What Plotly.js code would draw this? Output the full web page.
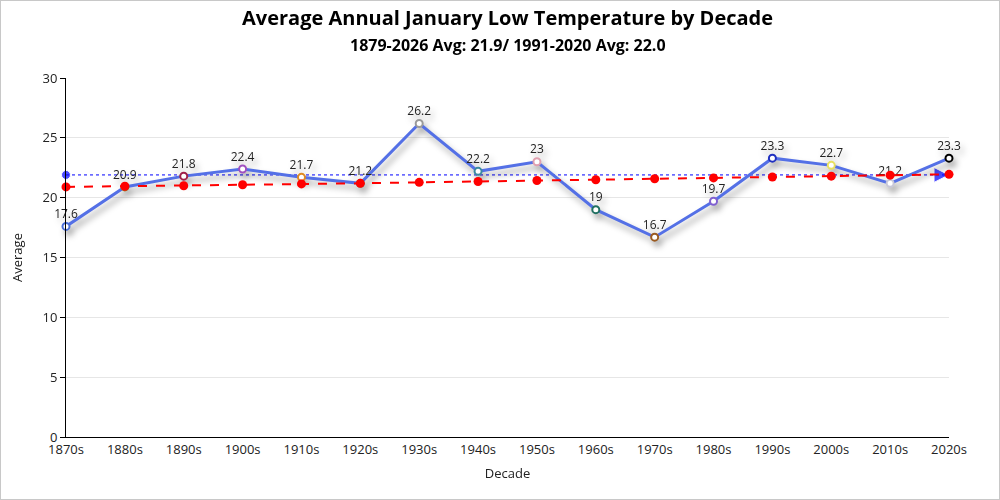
<!DOCTYPE html>
<html>
<head>
<meta charset="utf-8">
<script src="https://cdn.plot.ly/plotly-3.0.1.min.js"></script>
<style>
html,body{margin:0;padding:0;background:#fff;}
#wrap{position:relative;width:1000px;height:500px;}
#chart{width:1000px;height:500px;}
#frame{position:absolute;left:0;top:0;width:998px;height:498px;border:1px solid #c8c8c8;pointer-events:none;}
</style>
</head>
<body>
<div id="wrap"><div id="chart"></div><div id="frame"></div></div>
<script>
const decades = ["1870s","1880s","1890s","1900s","1910s","1920s","1930s","1940s","1950s","1960s","1970s","1980s","1990s","2000s","2010s","2020s"];
const averages = [17.6,20.9,21.8,22.4,21.7,21.2,26.2,22.2,23,19,16.7,19.7,23.3,22.7,21.2,23.3];
const markerColors = ["#4a6fd8","#8a8a2a","#a0204a","#a050c0","#e08a20","#6a8a6a","#9a9a9a","#3a8aa0","#e0a0b0","#207060","#9a5a20","#8060d0","#2030c0","#e8e060","#c8c8d8","#000000"];
const trend = [20.9,20.95,21.0,21.08,21.15,21.2,21.28,21.35,21.43,21.5,21.58,21.65,21.73,21.8,21.88,21.95];
const longAvg = 21.9;
const avgEnds = [decades[0], decades[decades.length-1]];
const avgVals = [longAvg, longAvg];

const FONT = "'Open Sans', 'Noto Sans', sans-serif";

const traces = [
  {
    x: avgEnds, y: avgVals, type: "scatter", mode: "lines+markers",
    line: {color: "#0000ff", width: 1, dash: "dot"},
    marker: {color: "#0000ff", size: [9, 15], symbol: ["circle", "arrow-right"]},
    cliponaxis: false, hoverinfo: "skip", showlegend: false
  },
  {
    x: decades, y: averages, type: "scatter", mode: "lines+markers+text",
    text: averages.map(String), textposition: "top center",
    textfont: {family: FONT, size: 12, color: "#222"},
    line: {color: "#5470e6", width: 3},
    marker: {size: 7, color: "#ffffff", line: {color: markerColors, width: 2}},
    cliponaxis: false, showlegend: false
  },
  {
    x: decades, y: trend, type: "scatter", mode: "lines+markers",
    line: {color: "#ff0000", width: 2, dash: "dash"},
    marker: {color: "#ff0000", size: 9},
    cliponaxis: false, showlegend: false
  }
];

const layout = {
  width: 1000, height: 500,
  margin: {l: 66, r: 51, t: 78, b: 63},
  paper_bgcolor: "#ffffff", plot_bgcolor: "#ffffff",
  font: {family: FONT, size: 12, color: "#222"},
  showlegend: false,
  xaxis: {
    type: "category", categoryorder: "array", categoryarray: decades, range: [0, 15],
    showgrid: false, showline: true, linecolor: "#000", linewidth: 1,
    ticks: "", tickfont: {size: 13, color: "#222"},
    title: {text: "Decade", font: {size: 13, color: "#222"}, standoff: 12},
    zeroline: false
  },
  yaxis: {
    range: [0, 30], dtick: 5,
    showgrid: true, gridcolor: "#e6e6e6", gridwidth: 1,
    showline: true, linecolor: "#000", linewidth: 1,
    ticks: "outside", ticklen: 5, tickcolor: "#000",
    tickfont: {size: 13, color: "#222"},
    title: {text: "Average", font: {size: 13, color: "#222"}, standoff: 16},
    zeroline: false
  },
  annotations: [
    {text: "<b>Average Annual January Low Temperature by Decade</b>", xref: "paper", yref: "paper",
     x: 0.5, y: 1, yshift: 61, showarrow: false, xanchor: "center", yanchor: "middle",
     font: {family: FONT, size: 20, color: "#000"}},
    {text: "<b>1879-2026 Avg: 21.9/ 1991-2020 Avg: 22.0</b>", xref: "paper", yref: "paper",
     x: 0.5, y: 1, yshift: 33, showarrow: false, xanchor: "center", yanchor: "middle",
     font: {family: FONT, size: 16, color: "#000"}}
  ]
};

Plotly.newPlot("chart", traces, layout, {displayModeBar: false, staticPlot: true}).then(() => {
  const tr = document.querySelectorAll(".scatterlayer .trace");
  if (tr[1]) tr[1].style.filter = "drop-shadow(3px 5px 3px rgba(0,0,0,0.35))";
});
</script>
</body>
</html>
